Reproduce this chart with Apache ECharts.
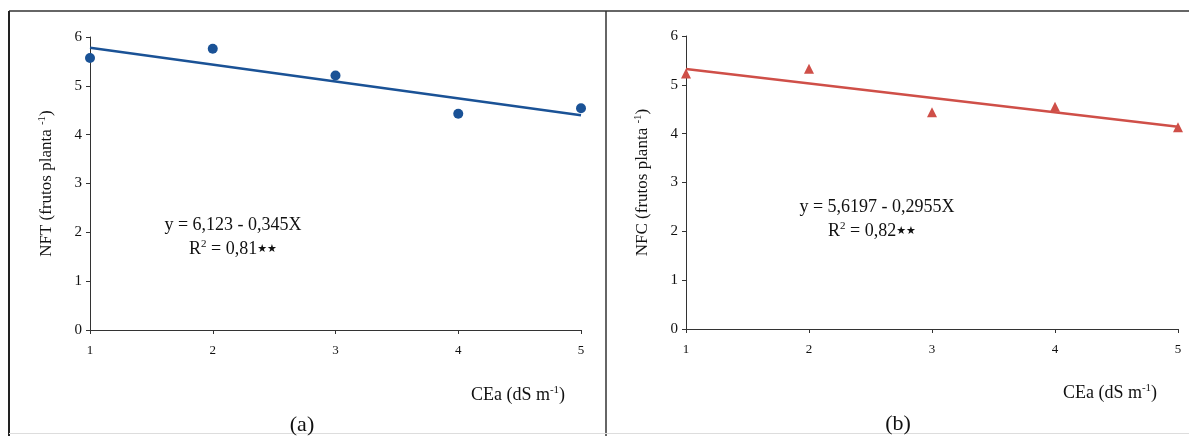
<!DOCTYPE html>
<html><head><meta charset="utf-8">
<script src="https://cdn.jsdelivr.net/npm/echarts@6/dist/echarts.min.js"></script>
<style>html,body{margin:0;padding:0;background:#fff}#c{width:1189px;height:436px}</style>
</head><body><div id="c"></div>
<script>
const xValues = [1, 2, 3, 4, 5];
const nftValues = [5.57, 5.76, 5.21, 4.43, 4.54];
const nfcValues = [5.23, 5.33, 4.44, 4.55, 4.13];
const fitX = [1, 5];
const nftFit = [5.778, 4.398];
const nfcFit = [5.324, 4.142];
const xTicks = [1, 2, 3, 4, 5];
const yTicks = [0, 1, 2, 3, 4, 5, 6];

const serif = '"Liberation Serif", "DejaVu Serif", serif';
const blue = '#1a5296';
const red = '#cf4f48';
const axisCol = '#333';

function xAxis(gi) {
  return {
    type: 'value', gridIndex: gi, min: 1, max: 5, interval: 1,
    axisLine: { lineStyle: { color: axisCol, width: 1 } },
    axisTick: { show: true, length: 4, inside: false, lineStyle: { color: axisCol } },
    axisLabel: { color: '#111', fontFamily: serif, fontSize: 13, margin: 14 },
    splitLine: { show: false }
  };
}
function yAxis(gi, name) {
  return {
    type: 'value', gridIndex: gi, min: 0, max: 6, interval: 1,
    name: name, nameLocation: 'middle', nameGap: 34, nameRotate: 90,
    nameTextStyle: { color: '#111', fontFamily: serif, fontSize: 17,
      rich: { sup: { fontSize: 11, verticalAlign: 'top', fontFamily: serif, color: '#111', padding: [0, 0, 8, 0] } } },
    axisLine: { show: true, lineStyle: { color: axisCol, width: 1 } },
    axisTick: { show: true, length: 4, lineStyle: { color: axisCol } },
    axisLabel: { color: '#111', fontFamily: serif, fontSize: 15, margin: 8 },
    splitLine: { show: false }
  };
}
function pts(vals) { return xValues.map((x, i) => [x, vals[i]]); }
function fit(vals) { return fitX.map((x, i) => [x, vals[i]]); }

const richText = {
  n: { fontFamily: serif, fontSize: 18, fill: '#111' },
  s: { fontFamily: serif, fontSize: 11, fill: '#111', verticalAlign: 'bottom', padding: [0, 0, 9, 0] },
  st: { fontFamily: 'DejaVu Sans', fontSize: 11, fill: '#111' }
};
function txt(x, y, t, size) {
  return { type: 'text', x: x, y: y, style: { text: t, font: size + 'px ' + serif, fill: '#111', textAlign: 'center', textVerticalAlign: 'middle' } };
}
function rtxt(x, y, t) {
  return { type: 'text', x: x, y: y, style: { text: t, rich: richText, textAlign: 'center', textVerticalAlign: 'middle' } };
}
function line(x1, y1, x2, y2, c, w) {
  return { type: 'line', shape: { x1: x1, y1: y1, x2: x2, y2: y2 }, style: { stroke: c, lineWidth: w } };
}

const chart = echarts.init(document.getElementById('c'), null, { renderer: 'canvas' });
chart.setOption({
  backgroundColor: '#fff',
  animation: false,
  grid: [
    { left: 90, top: 37, width: 491, height: 293 },
    { left: 686, top: 36, width: 492, height: 293 }
  ],
  xAxis: [xAxis(0), xAxis(1)],
  yAxis: [yAxis(0, 'NFT (frutos planta {sup|-1})'), yAxis(1, 'NFC (frutos planta {sup|-1})')],
  series: [
    { type: 'line', xAxisIndex: 0, yAxisIndex: 0, data: fit(nftFit), symbol: 'none',
      lineStyle: { color: blue, width: 2.5 }, z: 2 },
    { type: 'scatter', xAxisIndex: 0, yAxisIndex: 0, data: pts(nftValues), symbol: 'circle', symbolSize: 10,
      itemStyle: { color: blue, opacity: 1 }, z: 3 },
    { type: 'line', xAxisIndex: 1, yAxisIndex: 1, data: fit(nfcFit), symbol: 'none',
      lineStyle: { color: red, width: 2.5 }, z: 2 },
    { type: 'scatter', xAxisIndex: 1, yAxisIndex: 1, data: pts(nfcValues), symbol: 'triangle', symbolSize: 10,
      itemStyle: { color: red, opacity: 1 }, z: 3 }
  ],
  graphic: [
    line(9, 11, 1189, 11, '#333', 1.5),
    line(9, 11, 9, 436, '#222', 2),
    line(606, 11, 606, 436, '#333', 1.5),
    line(9, 433.5, 1189, 433.5, '#ddd', 1),
    rtxt(233, 225, '{n|y = 6,123 - 0,345X}'),
    rtxt(233, 249, '{n|R}{s|2}{n| = 0,81}{st|★★}'),
    rtxt(877, 207, '{n|y = 5,6197 - 0,2955X}'),
    rtxt(872, 231, '{n|R}{s|2}{n| = 0,82}{st|★★}'),
    rtxt(518, 395, '{n|CEa (dS m}{s|-1}{n|)}'),
    rtxt(1110, 393, '{n|CEa (dS m}{s|-1}{n|)}'),
    txt(302, 425, '(a)', 22),
    txt(898, 424, '(b)', 22)
  ]
});
</script></body></html>
